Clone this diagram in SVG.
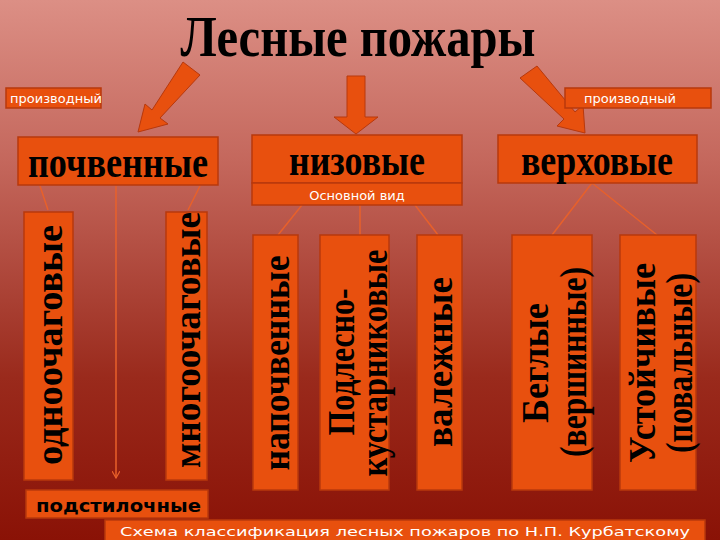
<svg xmlns="http://www.w3.org/2000/svg" width="720" height="540" viewBox="0 0 720 540">
<defs>
<linearGradient id="bg" x1="0" y1="0" x2="0" y2="1">
<stop offset="0" stop-color="#dc8f85"/>
<stop offset="0.3" stop-color="#c4675c"/>
<stop offset="0.7" stop-color="#9a2a1c"/>
<stop offset="1" stop-color="#8a1206"/>
</linearGradient>
<marker id="ah" markerWidth="8" markerHeight="8" refX="7" refY="4" orient="auto" markerUnits="userSpaceOnUse"><path d="M0,0 L7,4 L0,8" fill="none" stroke="#e8602a" stroke-width="1.2"/></marker>
</defs>
<style>
.box{fill:#e8500e;stroke:#b8380c;stroke-width:1.5}
.lbl{fill:#fff;font-family:"DejaVu Sans","Noto Sans",sans-serif;font-size:13px}
.big{font-family:"Liberation Serif",serif;font-weight:bold;font-size:44px;fill:#000;text-anchor:middle}
.vt{font-family:"Liberation Serif",serif;font-weight:bold;font-size:38px;fill:#000;text-anchor:middle}
.ln{stroke:#e8602a;stroke-width:1.5;fill:none}
.arr{fill:#e8500e;stroke:#b8380c;stroke-width:1}
</style>
<rect width="720" height="540" fill="url(#bg)"/>
<text x="358" y="56" font-family="Liberation Serif,serif" font-size="56" font-weight="bold" text-anchor="middle" fill="#000" textLength="355" lengthAdjust="spacingAndGlyphs">Лесные пожары</text>

<g id="connectors">
<path class="arr" d="M183,62 L200,75 L160,118 L168,124 L138,132 L145,104 L152,110 Z"/>
<path class="arr" d="M347,76 L365,76 L365,117 L378,117 L356,134 L334,117 L347,117 Z"/>
<path class="arr" d="M520,78 L537,66 L575,112 L583,105 L585,133 L557,126 L564,119 Z"/>
<line class="ln" x1="40" y1="186" x2="48" y2="210"/>
<line class="ln" x1="200" y1="186" x2="188" y2="210"/>
<line class="ln" x1="116" y1="186" x2="116" y2="478" marker-end="url(#ah)"/>
<line class="ln" x1="302" y1="205" x2="278" y2="235"/>
<line class="ln" x1="360" y1="205" x2="360" y2="235"/>
<line class="ln" x1="415" y1="205" x2="438" y2="235"/>
<line class="ln" x1="592" y1="183" x2="552" y2="235"/>
<line class="ln" x1="592" y1="183" x2="657" y2="235"/>
</g>

<g id="n-prl"><rect class="box" x="6" y="88" width="95" height="20"/><text class="lbl" x="10" y="103">производный</text></g>
<g id="n-prr"><rect class="box" x="565" y="88" width="146" height="20"/><text class="lbl" x="584" y="103">производный</text></g>

<g id="n-pochv"><rect class="box" x="18" y="137" width="200" height="48"/><text class="big" x="118" y="177" textLength="180" lengthAdjust="spacingAndGlyphs">почвенные</text></g>
<g id="n-niz"><rect class="box" x="252" y="135" width="210" height="48"/><text class="big" x="357" y="175" textLength="136" lengthAdjust="spacingAndGlyphs">низовые</text></g>
<g id="n-osn"><rect class="box" x="252" y="183" width="210" height="22"/><text class="lbl" x="357" y="200" text-anchor="middle" font-size="14">Основной вид</text></g>
<g id="n-verh"><rect class="box" x="498" y="135" width="199" height="48"/><text class="big" x="597" y="175" textLength="152" lengthAdjust="spacingAndGlyphs">верховые</text></g>

<g id="n-odno"><rect class="box" x="24" y="212" width="49" height="268"/><text class="vt" transform="translate(62,345) rotate(-90)" textLength="240" lengthAdjust="spacingAndGlyphs">одноочаговые</text></g>
<g id="n-mnogo"><rect class="box" x="166" y="212" width="41" height="268"/><text class="vt" transform="translate(200,340) rotate(-90)" textLength="256" lengthAdjust="spacingAndGlyphs">многоочаговые</text></g>
<g id="n-napoch"><rect class="box" x="253" y="235" width="45" height="255"/><text class="vt" transform="translate(289,363) rotate(-90)" textLength="215" lengthAdjust="spacingAndGlyphs">напочвенные</text></g>
<g id="n-podl"><rect class="box" x="320" y="235" width="69" height="255"/><text class="vt" transform="translate(354,362) rotate(-90)" textLength="147" lengthAdjust="spacingAndGlyphs">Подлесно-</text><text class="vt" transform="translate(387,363) rotate(-90)" textLength="227" lengthAdjust="spacingAndGlyphs">кустарниковые</text></g>
<g id="n-val"><rect class="box" x="417" y="235" width="45" height="255"/><text class="vt" transform="translate(452,362) rotate(-90)" textLength="170" lengthAdjust="spacingAndGlyphs">валежные</text></g>
<g id="n-beg"><rect class="box" x="512" y="235" width="80" height="255"/><text class="vt" transform="translate(548,363) rotate(-90)" textLength="120" lengthAdjust="spacingAndGlyphs">Беглые</text><text class="vt" transform="translate(586,362) rotate(-90)" textLength="190" lengthAdjust="spacingAndGlyphs">(вершинные)</text></g>
<g id="n-ust"><rect class="box" x="620" y="235" width="76" height="255"/><text class="vt" transform="translate(655,363) rotate(-90)" textLength="200" lengthAdjust="spacingAndGlyphs">Устойчивые</text><text class="vt" transform="translate(692,363) rotate(-90)" textLength="180" lengthAdjust="spacingAndGlyphs">(повальные)</text></g>

<g id="n-podst"><rect class="box" x="26" y="490" width="182" height="28"/><text x="36" y="512" font-family="DejaVu Sans,sans-serif" font-weight="bold" font-size="17" fill="#000" textLength="165" lengthAdjust="spacingAndGlyphs">подстилочные</text></g>
<g id="n-schema"><rect class="box" x="105" y="520" width="600" height="22"/><text class="lbl" x="405" y="536" text-anchor="middle" font-size="15" textLength="570" lengthAdjust="spacingAndGlyphs">Схема классификация лесных пожаров по Н.П. Курбатскому</text></g>
</svg>
